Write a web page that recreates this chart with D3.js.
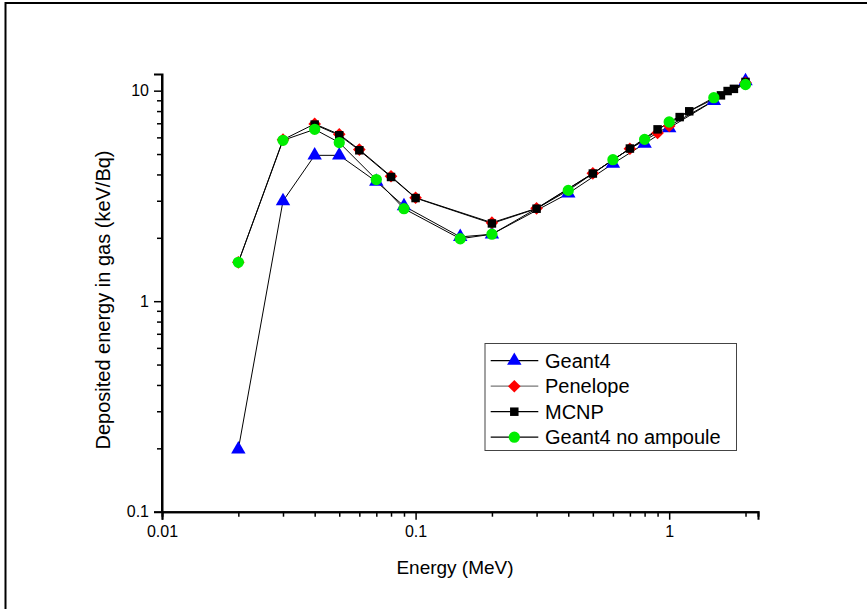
<!DOCTYPE html>
<html><head><meta charset="utf-8">
<script src="https://cdn.jsdelivr.net/npm/d3@7"></script>
<style>html,body{margin:0;padding:0;background:#fff;}svg{display:block;font-family:"Liberation Sans",Arial,sans-serif;}</style>
</head><body>
<svg id="c" width="867" height="609"></svg>
<script>
// ---- data ----
const seriesNames = ["Geant4", "Penelope", "MCNP", "Geant4 no ampoule"];
const geant4E = [0.02,0.03,0.04,0.05,0.07,0.09,0.15,0.2,0.4,0.6,0.8,1.0,1.5,2.0];
const geant4V = [0.198,2.99,4.93,4.93,3.70,2.83,2.02,2.08,3.25,4.50,5.60,6.65,8.95,11.1];
const penelopeE = [0.02,0.03,0.04,0.05,0.06,0.08,0.1,0.2,0.3,0.5,0.7,0.9,1.0,2.0];
const penelopeV = [1.53,5.85,6.95,6.20,5.25,3.92,3.10,2.36,2.76,4.05,5.30,6.30,6.80,10.9];
const mcnpE = [0.04,0.05,0.06,0.08,0.1,0.2,0.3,0.5,0.7,0.9,1.1,1.2,1.6,1.7,1.8,2.0];
const mcnpV = [6.90,6.14,5.21,3.89,3.09,2.34,2.75,4.04,5.31,6.55,7.49,7.98,9.50,9.96,10.2,11.0];
const noAmpE = [0.02,0.03,0.04,0.05,0.07,0.09,0.15,0.2,0.4,0.6,0.8,1.0,1.5,2.0];
const noAmpV = [1.53,5.81,6.55,5.67,3.78,2.75,1.98,2.08,3.36,4.70,5.87,7.10,9.26,10.7];
const xMajor = [0.01,0.1,1];
const xMajorLabels = ["0.01","0.1","1"];
const yMajor = [0.1,1,10];
const yMajorLabels = ["0.1","1","10"];
const xTitle = "Energy (MeV)";
const yTitle = "Deposited energy in gas (keV/Bq)";

const svg = d3.select("#c");
// page frame
svg.append("rect").attr("x",5.5).attr("y",3).attr("width",900).attr("height",700)
  .attr("fill","none").attr("stroke","#000").attr("stroke-width",2);

const x = d3.scaleLog().domain([0.01,2.24]).range([162,758]);
const y = d3.scaleLog().domain([0.1,12]).range([511.7,74]);

const xMinor = [], yMinor = [];
[0.01,0.1,1].forEach(d=>{for(let k=2;k<=9;k++){const v=+(d*k).toPrecision(3); if(v<=2.24) xMinor.push(v);}});
[0.1,1].forEach(d=>{for(let k=2;k<=9;k++){yMinor.push(+(d*k).toPrecision(3));}});

const gx = svg.append("g").attr("transform","translate(0,511.7)");
gx.call(d3.axisBottom(x).tickValues(xMajor).tickSize(8).tickPadding(6).tickFormat((d,i)=>xMajorLabels[i]));
const gxm = svg.append("g").attr("transform","translate(0,511.7)");
gxm.call(d3.axisBottom(x).tickValues(xMinor).tickSize(5).tickFormat(""));
const gy = svg.append("g").attr("transform","translate(162,0)");
gy.call(d3.axisLeft(y).tickValues(yMajor).tickSize(8).tickPadding(5).tickFormat((d,i)=>yMajorLabels[i]));
const gym = svg.append("g").attr("transform","translate(162,0)");
gym.call(d3.axisLeft(y).tickValues(yMinor).tickSize(5).tickFormat(""));
[gx,gxm,gy,gym].forEach(g=>{
  g.selectAll(".domain").attr("stroke","#000").attr("stroke-width",2);
  g.selectAll(".tick line").attr("stroke","#000").attr("stroke-width",1.5);
  g.selectAll("text").attr("font-size",16).attr("fill","#000").attr("font-family","Liberation Sans, Arial, sans-serif");
});
gym.select(".domain").attr("d","M0,511.7V74");

svg.append("text").attr("x",455).attr("y",574).attr("text-anchor","middle")
  .attr("font-size",19).text(xTitle);
svg.append("text").attr("transform","translate(110,300) rotate(-90)").attr("text-anchor","middle")
  .attr("font-size",20).text(yTitle);

const line = d3.line().x(d=>x(d[0])).y(d=>y(d[1]));
const zip = (a,b)=>a.map((v,i)=>[v,b[i]]);
const sets = [
  {name:seriesNames[0], data:zip(geant4E,geant4V), color:"#0000ff", sym:d3.symbolTriangle, size:90, rot:0},
  {name:seriesNames[1], data:zip(penelopeE,penelopeV), color:"#ff0000", sym:d3.symbolSquare, size:80, rot:45},
  {name:seriesNames[2], data:zip(mcnpE,mcnpV), color:"#000000", sym:d3.symbolSquare, size:72, rot:0},
  {name:seriesNames[3], data:zip(noAmpE,noAmpV), color:"#00ee00", sym:d3.symbolCircle, size:100, rot:0}
];
sets.forEach(s=>{
  svg.append("path").attr("d",line(s.data)).attr("fill","none").attr("stroke","#000").attr("stroke-width",1);
});
sets.forEach(s=>{
  svg.append("g").selectAll("path").data(s.data).join("path")
    .attr("transform",d=>`translate(${x(d[0])},${y(d[1])}) rotate(${s.rot})`)
    .attr("d",d3.symbol().type(s.sym).size(s.size)).attr("fill",s.color);
});

// legend
const lg = svg.append("g");
lg.append("rect").attr("x",485).attr("y",343.5).attr("width",251.5).attr("height",107)
  .attr("fill","#fff").attr("stroke","#444").attr("stroke-width",1);
sets.forEach((s,i)=>{
  const cy = 360.7 + i*25.5;
  lg.append("line").attr("x1",490.7).attr("x2",538.3).attr("y1",cy).attr("y2",cy).attr("stroke",i===1?"#777":"#000").attr("stroke-width",1.2);
  lg.append("path").attr("transform",`translate(514.3,${cy}) rotate(${s.rot})`).attr("d",d3.symbol().type(s.sym).size(s.size)).attr("fill",s.color);
  lg.append("text").attr("x",545).attr("y",cy+7).attr("font-size",20).text(s.name);
});
</script>
</body></html>
